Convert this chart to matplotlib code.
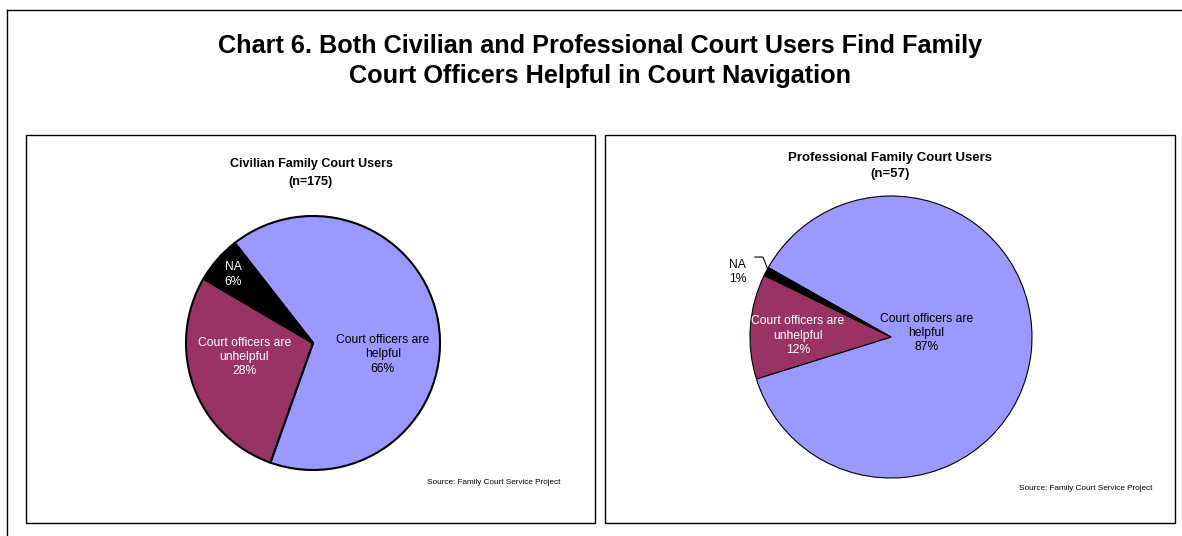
"""Chart 6: court users' views of Family Court officers, two pies side by side."""
import matplotlib

matplotlib.use("Agg")
import matplotlib.pyplot as plt
from matplotlib.patches import Rectangle
from matplotlib.lines import Line2D

plt.rcParams["font.family"] = ["Liberation Sans", "DejaVu Sans"]

W, H = 1182, 536

TITLE = ("Chart 6. Both Civilian and Professional Court Users Find Family\n"
         "Court Officers Helpful in Court Navigation")
SOURCE = "Source: Family Court Service Project"

categories = ["Court officers are\nhelpful", "Court officers are\nunhelpful", "NA"]
colors = ["#9999ff", "#993366", "#000000"]

civ_title = "Civilian Family Court Users\n(n=175)"
civ_pct = [66, 28, 6]

pro_title = "Professional Family Court Users\n(n=57)"
pro_pct = [87, 12, 1]


def fx(x):
    return x / W


def fy(y):
    return 1 - y / H


def box(fig, x0, y0, x1, y1, lw=1.0):
    fig.add_artist(Rectangle((fx(x0), fy(y1)), (x1 - x0) / W, (y1 - y0) / H,
                             fill=False, edgecolor="black", lw=lw))


def pie_axes(fig, cx, cy, r):
    ax = fig.add_axes([fx(cx - r), fy(cy + r), 2 * r / W, 2 * r / H])
    ax.axis("off")
    return ax


def fix_limits(ax):
    # pie() pads the limits to 1.25; the axes box is already the pie's size
    ax.set_xlim(-1, 1)
    ax.set_ylim(-1, 1)


fig = plt.figure(figsize=(W / 100, H / 100), dpi=100)

# outer frame (top and left edges only)
fig.add_artist(Line2D([fx(7), 1.0], [fy(10), fy(10)], color="black", lw=1.0))
fig.add_artist(Line2D([fx(7), fx(7)], [fy(10), 0.0], color="black", lw=1.0))

fig.text(fx(600), fy(61), TITLE, ha="center", va="center", fontsize=18.2,
         fontweight="bold", linespacing=1.3)

# panel frames
box(fig, 26, 135, 595, 523)
box(fig, 605, 135, 1175, 523)

lbl_kw = dict(ha="center", va="center", fontsize=8.7, linespacing=1.25)

# --- civilian users ---
fig.text(fx(311), fy(173), civ_title, ha="center", va="center", fontsize=9,
         fontweight="bold", linespacing=1.6)
ax1 = pie_axes(fig, 313, 343, 127)
ax1.pie(civ_pct, colors=colors, startangle=128, counterclock=False, radius=1,
        wedgeprops=dict(edgecolor="black", linewidth=1.5))
fix_limits(ax1)
ax1.text(0.55, -0.09, f"{categories[0]}\n{civ_pct[0]}%", color="black", **lbl_kw)
ax1.text(-0.54, -0.11, f"{categories[1]}\n{civ_pct[1]}%", color="white", **lbl_kw)
ax1.text(-0.63, 0.54, f"{categories[2]}\n{civ_pct[2]}%", color="white", **lbl_kw)
fig.text(fx(560), fy(482), SOURCE, ha="right", va="center", fontsize=5.9)

# --- professional users ---
fig.text(fx(890), fy(166), pro_title, ha="center", va="center", fontsize=9.5,
         fontweight="bold", linespacing=1.35)
ax2 = pie_axes(fig, 891, 337, 141)
ax2.pie(pro_pct, colors=colors, startangle=150.5, counterclock=False, radius=1,
        wedgeprops=dict(edgecolor="black", linewidth=0.8))
fix_limits(ax2)
ax2.text(0.25, 0.03, f"{categories[0]}\n{pro_pct[0]}%", color="black", **lbl_kw)
ax2.text(-0.66, 0.01, f"{categories[1]}\n{pro_pct[1]}%", color="white", **lbl_kw)
ax2.text(-1.09, 0.46, f"{categories[2]}\n{pro_pct[2]}%", color="black", **lbl_kw)
ax2.plot([-0.965, -0.908, -0.872], [0.567, 0.567, 0.475], color="black",
         lw=0.8, clip_on=False)
fig.text(fx(1152), fy(489), SOURCE, ha="right", va="center", fontsize=5.9)

fig.savefig("out.png", dpi=100)
